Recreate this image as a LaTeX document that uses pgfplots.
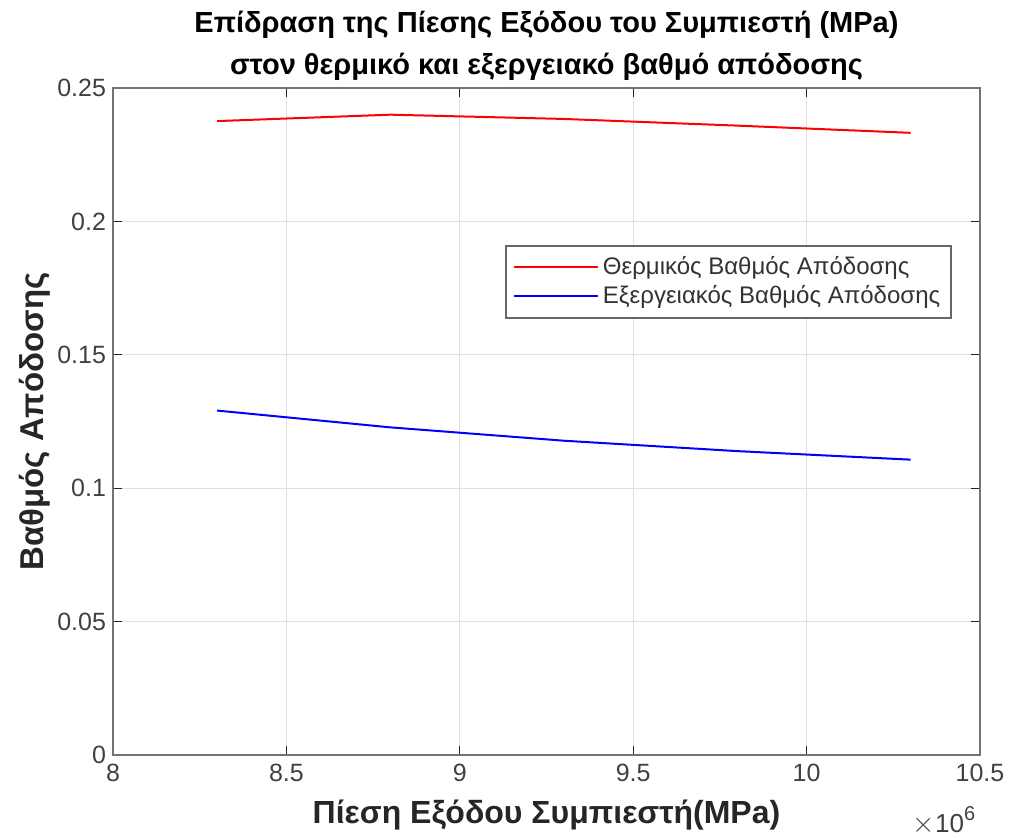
\documentclass[border=0pt]{standalone}
\usepackage{pgfplots}
\pgfplotsset{compat=1.18}
\usepackage{fontspec}
\setmainfont{Liberation Sans}
\definecolor{axgray}{gray}{0.15}
\begin{document}
\begin{tikzpicture}
\useasboundingbox (-56.5pt,-41pt) rectangle (450pt,377.5pt);
\begin{axis}[
  name=ax,
  scale only axis,
  width=433.5pt, height=333.5pt,
  xmin=8, xmax=10.5, ymin=0, ymax=0.25,
  xtick={8,8.5,9,9.5,10,10.5},
  ytick={0,0.05,0.1,0.15,0.2,0.25},
  yticklabels={0,0.05,0.1,0.15,0.2,0.25},
  xticklabels={8,8.5,9,9.5,10,10.5},
  scaled ticks=false,
  tick align=inside,
  major tick length=4.5pt,
  tick style={axgray, line width=0.5pt},
  axis line style={black!55, line width=1pt},
  grid=major,
  grid style={gray!25, line width=0.5pt},
  ticklabel style={font=\fontsize{12.5}{14}\selectfont, text=black!75},
  xticklabel style={yshift=-1pt},
  /pgf/number format/assume math mode=true,
  xlabel={Πίεση Εξόδου Συμπιεστή(MPa)},
  ylabel={Βαθμός Απόδοσης},
  xlabel style={font=\bfseries\fontsize{16}{18}\selectfont, text=black!85, yshift=-2pt},
  ylabel style={font=\bfseries\fontsize{16.5}{18}\selectfont, text=black!85, yshift=-3.5pt},
  title={Επίδραση της Πίεσης Εξόδου του Συμπιεστή (MPa)\\στον θερμικό και εξεργειακό βαθμό απόδοσης},
  title style={align=center, font=\bfseries\fontsize{14.5}{21}\selectfont, yshift=-6pt},
  legend style={at={(0.9677,0.7646)}, anchor=north east, draw=black!60, line width=0.8pt,
    font=\fontsize{12}{14}\selectfont, text=black!80, row sep=0pt, inner sep=3.5pt},
  legend cell align=left,
  legend image code/.code={\draw[#1, line width=1pt] (0pt,0pt) -- (42pt,0pt);},
]
\addplot[red, line width=1pt] coordinates {
 (8.3,0.2376) (8.8,0.2400) (9.3,0.2384) (9.8,0.2359) (10.3,0.2332)
};
\addlegendentry{Θερμικός Βαθμός Απόδοσης}
\addplot[blue, line width=1pt] coordinates {
 (8.3,0.1291) (8.8,0.1228) (9.3,0.1178) (9.8,0.1139) (10.3,0.1107)
};
\addlegendentry{Εξεργειακός Βαθμός Απόδοσης}
\end{axis}
\node[anchor=base, font=\fontsize{13}{14}\selectfont, text=black!75] at ([xshift=-18pt,yshift=-38.5pt]ax.south east) {{\fontsize{15}{15}\selectfont$\times$}10\raisebox{0.85ex}{\fontsize{10}{10}\selectfont 6}};
\end{tikzpicture}
\end{document}
